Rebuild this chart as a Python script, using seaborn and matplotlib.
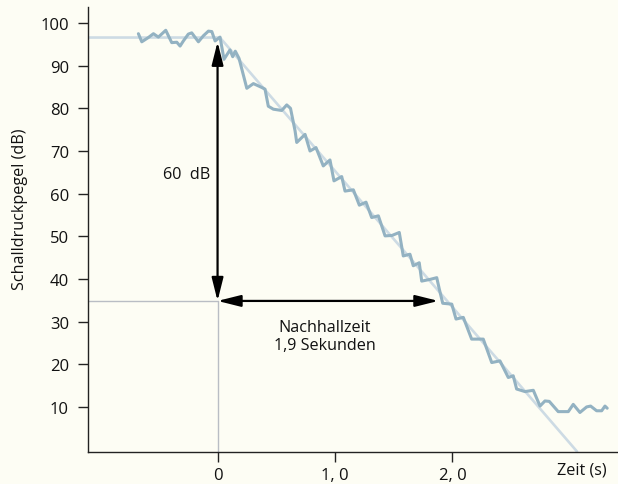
import numpy as np
import pandas as pd
import matplotlib
matplotlib.use("Agg")
import matplotlib.pyplot as plt
import seaborn as sns

time_s = [-0.674, -0.645, -0.589, -0.546, -0.504, -0.441, -0.390, -0.347, -0.319, -0.291,
          -0.249, -0.220, -0.163, -0.121, -0.078, -0.049, -0.021, 0.021, 0.055, 0.106,
          0.129, 0.151, 0.183, 0.249, 0.305, 0.376, 0.404, 0.432, 0.475, 0.546,
          0.589, 0.621, 0.660, 0.674, 0.745, 0.787, 0.838, 0.900, 0.957, 0.991,
          1.057, 1.085, 1.156, 1.207, 1.264, 1.312, 1.369, 1.426, 1.485, 1.547,
          1.581, 1.638, 1.666, 1.717, 1.738, 1.809, 1.866, 1.888, 1.917, 1.994,
          2.030, 2.092, 2.163, 2.262, 2.334, 2.404, 2.475, 2.517, 2.546, 2.617,
          2.688, 2.745, 2.787, 2.824, 2.900, 2.986, 3.028, 3.085, 3.142, 3.176,
          3.227, 3.270, 3.298, 3.317]
level_db = [97.5, 95.6, 96.6, 97.5, 96.7, 98.3, 95.4, 95.5, 94.6, 95.8,
            97.4, 97.7, 95.6, 97.0, 98.1, 98.0, 95.8, 96.7, 91.5, 93.7,
            92.1, 93.4, 91.7, 84.7, 85.8, 84.9, 84.5, 80.5, 79.8, 79.5,
            80.8, 80.0, 74.7, 72.0, 73.9, 70.0, 70.8, 66.5, 67.9, 63.0,
            64.0, 60.6, 60.9, 57.3, 58.0, 54.4, 54.8, 50.1, 50.2, 50.9,
            45.4, 45.8, 43.1, 43.8, 39.5, 39.9, 40.3, 37.6, 34.3, 34.1,
            30.6, 31.0, 25.9, 25.9, 20.4, 20.8, 16.9, 17.3, 14.2, 13.6,
            13.9, 10.2, 11.4, 11.3, 8.9, 8.9, 10.6, 8.7, 10.0, 10.2,
            9.1, 9.1, 10.2, 9.7]

# idealisierter Abfall
fit_time = [-1.2, 0.02, 3.06]
fit_db = [96.6, 96.6, -0.45]

start_level = 95.6
end_level = 34.85
reverb_time = 1.88

y_ticks = [10, 20, 30, 40, 50, 60, 70, 80, 90, 100]
x_ticks = [0, 1, 2]
x_labels = ["0", "1, 0", "2, 0"]

bg = "#fdfdf4"
curve_color = "#93b2c2"
fit_color = "#cddbe4"
guide_color = "#b9bdc4"
fs = 11.6

sns.set_style("ticks")
plt.rcParams["font.family"] = ["Open Sans", "DejaVu Sans"]

fig = plt.figure(figsize=(6.18, 4.85), dpi=100, facecolor=bg)
ax = fig.add_axes([0.142, 0.067, 0.858, 0.916], facecolor=bg)

fit_df = pd.DataFrame({"t": fit_time, "db": fit_db})
meas_df = pd.DataFrame({"t": time_s, "db": level_db})
sns.lineplot(data=fit_df, x="t", y="db", ax=ax, color=fit_color, lw=1.9,
             sort=False, estimator=None, zorder=2)
sns.lineplot(data=meas_df, x="t", y="db", ax=ax, color=curve_color, lw=2.2,
             sort=False, estimator=None, zorder=3,
             solid_joinstyle="round", solid_capstyle="round")

# Hilfslinien
ax.plot([-1.2, 0], [end_level, end_level], color=guide_color, lw=1.0, zorder=1)
ax.plot([0, 0], [-1, end_level], color=guide_color, lw=1.0, zorder=1)

arrow = dict(arrowstyle="<|-|>,head_length=1.0,head_width=0.25",
             color="black", lw=1.6, mutation_scale=14, shrinkA=0, shrinkB=0)
ax.annotate("", xy=(0, start_level), xytext=(0, end_level), arrowprops=arrow, zorder=5)
ax.annotate("", xy=(reverb_time, end_level), xytext=(0, end_level), arrowprops=arrow, zorder=5)

ax.text(-0.26, 64.5, "60  dB", ha="center", va="center", fontsize=fs, color="#111")
ax.text(0.91, 26.6, "Nachhallzeit\n1,9 Sekunden", ha="center", va="center",
        fontsize=fs, color="#111", linespacing=1.2)
ax.text(3.10, -4.6, "Zeit (s)", ha="center", va="center", fontsize=fs,
        color="#111", clip_on=False)

ax.set_xlim(-1.105, 3.409)
ax.set_ylim(-0.45, 103.7)
ax.set_xticks(x_ticks)
ax.set_xticklabels(x_labels)
ax.set_yticks(y_ticks)
ax.set_xlabel("")
ax.set_ylabel("Schalldruckpegel (dB)", fontsize=fs, color="#111")
ax.yaxis.set_label_coords(-0.112, 0.548)
ax.tick_params(axis="both", length=7, width=1.0, color="#222",
               labelsize=12, labelcolor="#111")
ax.tick_params(axis="y", pad=6.5)
ax.tick_params(axis="x", pad=4)

sns.despine(ax=ax)
for s in ["left", "bottom"]:
    ax.spines[s].set_linewidth(1.0)
    ax.spines[s].set_color("#222")

fig.savefig("out.png", dpi=100, facecolor=bg)
